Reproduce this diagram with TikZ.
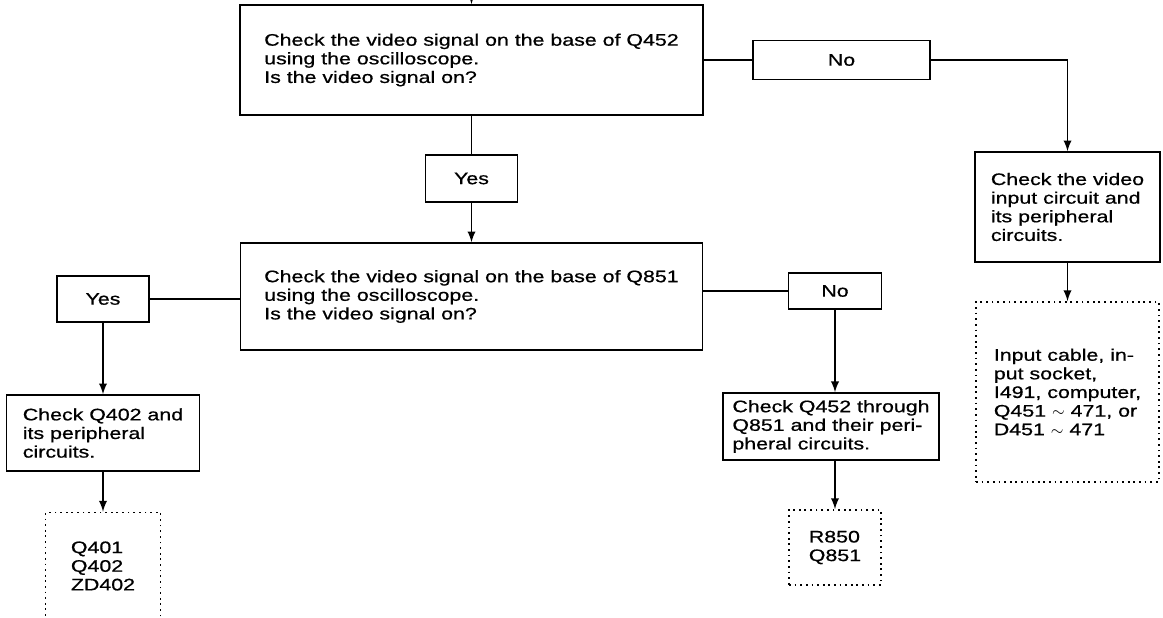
\documentclass[tikz,border=0pt]{standalone}
\usepackage{fontspec}
\setmainfont{Liberation Sans}[FakeStretch=1.28,FakeBold=0.7]

\tikzset{
  chkbox/.style={draw,line width=0.9pt,align=left,inner sep=0pt,font=\fontsize{9.5}{10.6}\selectfont},
  ansbox/.style={chkbox,align=center},
  partbox/.style={chkbox,line width=1pt,dash pattern=on 1pt off 2.2pt},
  flow/.style={-latex,line width=1.1pt},
  link/.style={-,line width=1.1pt},
}

\begin{document}
\begin{tikzpicture}[x=0.02cm,y=-0.02cm]
\useasboundingbox (0,0) rectangle (1163,618);

%% first check
\coordinate (in) at (471.5,-3);
\node [chkbox,minimum width=9.26cm,minimum height=2.2cm] (q452) at (471.5,60)
  {Check the video signal on the base of Q452\\using the oscilloscope.\\Is the video signal on?};
\node [ansbox,minimum width=3.54cm,minimum height=0.78cm] (no1) at (841.5,60) {No};
\node [chkbox,minimum width=3.7cm,minimum height=2.2cm] (chkin) at (1067.5,207)
  {Check the video\\input circuit and\\its peripheral\\circuits.};
\node [partbox,minimum width=3.66cm,minimum height=3.6cm] (partsin) at (1067.5,392)
  {Input cable, in-\\put socket,\\I491, computer,\\Q451 $\sim$ 471, or\\D451 $\sim$ 471};

%% second check
\node [ansbox,minimum width=1.84cm,minimum height=0.94cm] (yes1) at (471.5,178.5) {Yes};
\node [chkbox,minimum width=9.24cm,minimum height=2.14cm] (q851) at (471.5,296.5)
  {Check the video signal on the base of Q851\\using the oscilloscope.\\Is the video signal on?};

%% left branch
\node [ansbox,minimum width=1.84cm,minimum height=0.92cm] (yes2) at (103,299) {Yes};
\node [chkbox,minimum width=3.86cm,minimum height=1.52cm] (chk402) at (103,433)
  {Check Q402 and\\its peripheral\\circuits.};
\node [partbox,minimum width=2.3cm,minimum height=2.14cm] (parts402) at (103,566)
  {Q401\\Q402\\ZD402};

%% right branch
\node [ansbox,minimum width=1.86cm,minimum height=0.72cm] (no2) at (835,291) {No};
\node [chkbox,minimum width=4.32cm,minimum height=1.34cm] (chk452) at (831,426.5)
  {Check Q452 through\\Q851 and their peri-\\pheral circuits.};
\node [partbox,minimum width=1.84cm,minimum height=1.5cm] (parts850) at (835,547.5)
  {R850\\Q851};

%% connectors
\draw [flow] (in) -- (q452);
\draw [link] (q452) -- (no1);
\draw [flow] (no1.east) -| (chkin.north);
\draw [flow] (chkin) -- (partsin);
\draw [link] (q452) -- (yes1);
\draw [flow] (yes1) -- (q851);
\draw [link] (q851.west |- yes2) -- (yes2);
\draw [flow] (yes2) -- (chk402);
\draw [flow] (chk402) -- (parts402);
\draw [link] (q851.east |- no2) -- (no2);
\draw [flow] (no2.south) -- (no2.south |- chk452.north);
\draw [flow] (chk452.south -| parts850) -- (parts850);

\end{tikzpicture}
\end{document}
